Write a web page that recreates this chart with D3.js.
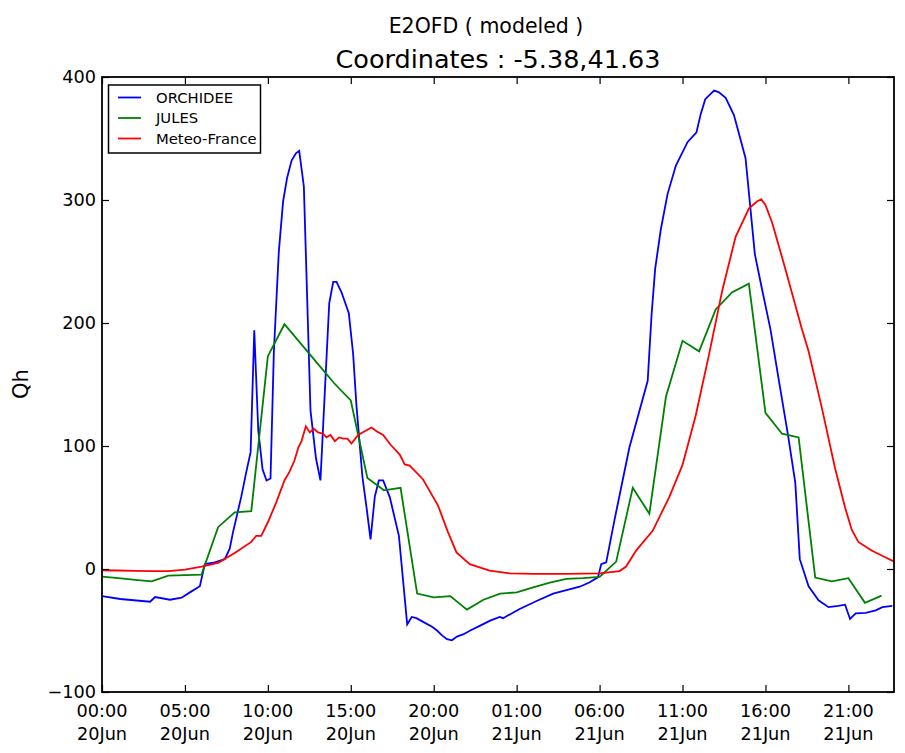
<!DOCTYPE html>
<html>
<head>
<meta charset="utf-8">
<script src="https://cdn.jsdelivr.net/npm/d3@7"></script>
<style>
  html, body { margin: 0; padding: 0; background: #fff; }
  svg { display: block; font-family: "DejaVu Sans", sans-serif; }
</style>
</head>
<body>
<svg id="chart" width="905" height="753"></svg>
<script>
// ---- data (hours since 20 Jun 00:00, Qh value) ----
const seriesNames = ["ORCHIDEE", "JULES", "Meteo-France"];
const seriesColors = ["#0000ff", "#008000", "#ff0000"];

const orchidee = [
  [0,-22],[1.1,-24.4],[2.9,-26.6],[3.2,-22.8],[4.1,-25],[4.8,-23.3],[5.3,-19],[5.9,-14],
  [6.2,4],[6.8,5.4],[7.4,8],[7.7,16.5],[7.9,30],[8.4,59],[8.7,79],[8.96,95],[9.18,194],
  [9.42,113],[9.68,81],[9.92,72],[10.16,73.6],[10.36,176],[10.66,258],[10.92,299],
  [11.16,318],[11.43,332],[11.69,338],[11.89,340],[12.17,311],[12.57,129],[12.9,90],
  [13.17,72],[13.43,143],[13.7,216],[13.94,233.5],[14.14,233.5],[14.44,225],[14.88,208],
  [15.14,175],[15.34,133],[15.7,75],[15.94,51],[16.19,24],[16.45,59],[16.69,72],[16.95,72],
  [17.35,58.5],[17.9,27],[18.4,-45],[18.67,-39],[18.96,-40],[19.36,-43],[19.9,-47],
  [20.2,-50],[20.5,-54],[20.8,-57],[21.1,-58],[21.4,-55],[21.8,-53],[22.2,-50],[22.8,-46],
  [23.4,-42],[23.98,-39],[24.18,-40],[25.18,-32.5],[26.2,-26],[27.2,-20],[28.8,-14.4],
  [29.38,-11],[29.9,-6.8],[30.1,4],[30.4,5.4],[30.9,40],[31.8,99],[32.9,153],[33.13,206],
  [33.35,244],[33.69,276],[34.1,305],[34.6,328],[35.3,347],[35.84,355],[36.1,370],
  [36.37,382],[36.9,389],[37.2,387.5],[37.6,383],[38.1,369],[38.8,334],[39.36,256],
  [39.8,227],[40.3,195],[40.8,154],[41.37,108],[41.8,70],[42.07,8],[42.6,-14],[43.2,-25.5],
  [43.8,-31],[44.4,-30],[44.8,-29],[45.1,-40.6],[45.44,-36],[46.04,-35.6],[46.65,-33.6],
  [47.05,-31],[47.65,-30]
];

const jules = [
  [0,-6.2],[1,-7.5],[2,-8.8],[3,-10],[4,-5.4],[5,-5],[6,-4.6],[7,34],[8,46],[9,47],
  [10,173],[11,199],[12,183],[13,167],[14,151],[15,137],[16,74],[17,64],[18,66],[19,-20],
  [20,-23],[21,-22],[22,-33],[23,-25],[24,-20],[25,-19],[26,-15],[27,-11],[28,-8],[29,-7.5],
  [30,-6.5],[31,6],[32,66],[33,45],[34,140],[35,185.5],[36,177],[37,211],[38,225],[39,232],
  [40,127],[41,110],[42,107],[43,-7],[44,-10],[45,-7.5],[46,-27.5],[47,-21.7]
];

const meteoFrance = [
  [0,-1],[1,-1.2],[2,-1.5],[3,-1.7],[4,-1.8],[5,-0.5],[6,2],[7,5],[8,13],[9,22],[9.3,27],
  [9.6,27],[10,38],[10.5,54],[11,72],[11.3,79],[11.6,88],[11.84,99],[12.03,104],[12.29,116],
  [12.53,111],[12.77,114],[13.03,111],[13.33,110],[13.53,107],[13.77,109],[14.04,104],
  [14.3,107],[14.54,106],[14.8,106],[15.04,102],[15.44,109],[15.84,112],[16.25,115],
  [16.55,112],[16.95,109],[17.4,101],[17.95,93],[18.25,85],[18.55,84],[19.35,73],
  [20.26,51.5],[20.86,30],[21.37,13.5],[22.17,4],[23.37,-1.4],[24.58,-3.5],[26,-4],[28,-4],
  [30,-3.5],[31.2,-1.7],[31.6,2],[32.2,15],[33.2,31],[34.2,58.5],[35,84.6],[35.8,125],
  [36.6,174.5],[37.4,226.7],[38.2,270],[39,293],[39.5,299],[39.75,300.5],[40,296],
  [40.4,281.7],[41.2,244],[42.2,195],[42.6,177],[43.4,131],[44.2,81.7],[44.8,50],
  [45.2,32],[45.6,22],[46.4,15],[47.25,9.3],[47.7,6.4]
];

const xTickHours = [0,5,10,15,20,25,30,35,40,45];
const yTicks = [-100,0,100,200,300,400];
const xDomainHours = [0, 47.75];
const yDomain = [-100, 400];
const startDate = new Date(2014, 5, 20, 0, 0, 0);

const suptitleText = "E2OFD ( modeled )";
const titleText = "Coordinates : -5.38,41.63";
const yLabelText = "Qh";

// ---- layout ----
const W = 905, H = 753;
const mL = 102, mR = 894, mT = 77, mB = 692;

const toDate = h => new Date(startDate.getTime() + h * 3600e3);

const svg = d3.select("#chart");
svg.append("rect").attr("width", W).attr("height", H).attr("fill", "#fff");

const x = d3.scaleTime().domain(xDomainHours.map(toDate)).range([mL, mR]);
const y = d3.scaleLinear().domain(yDomain).range([mB, mT]);

const fmtTime = d3.timeFormat("%H:%M");
const fmtDay = d3.timeFormat("%d%b");
const tickDates = xTickHours.map(toDate);

svg.append("clipPath").attr("id", "clip")
  .append("rect").attr("x", mL).attr("y", mT).attr("width", mR - mL).attr("height", mB - mT);

const line = d3.line().x(d => x(toDate(d[0]))).y(d => y(d[1]));

const allSeries = [orchidee, jules, meteoFrance];
const gLines = svg.append("g").attr("clip-path", "url(#clip)");
allSeries.forEach((s, i) => {
  gLines.append("path").datum(s)
    .attr("d", line)
    .attr("fill", "none")
    .attr("stroke", seriesColors[i])
    .attr("stroke-width", 1.8)
    .attr("stroke-linejoin", "miter");
});

const tickLen = 7;
const fontTick = 17.7;
const minus = s => s.replace("-", "\u2212");

function styleAxis(g) {
  g.select(".domain").remove();
  g.selectAll(".tick line").attr("stroke", "#000").attr("stroke-width", 1.2);
}
svg.append("g").attr("transform", `translate(0,${mB})`)
  .call(d3.axisBottom(x).tickValues(tickDates).tickSize(-tickLen).tickFormat("")).call(styleAxis);
svg.append("g").attr("transform", `translate(0,${mT})`)
  .call(d3.axisTop(x).tickValues(tickDates).tickSize(-tickLen).tickFormat("")).call(styleAxis);
svg.append("g").attr("transform", `translate(${mL},0)`)
  .call(d3.axisLeft(y).tickValues(yTicks).tickSize(-tickLen).tickFormat("")).call(styleAxis);
svg.append("g").attr("transform", `translate(${mR},0)`)
  .call(d3.axisRight(y).tickValues(yTicks).tickSize(-tickLen).tickFormat("")).call(styleAxis);

// x tick labels (two lines)
const xl = svg.append("g").attr("font-size", fontTick).attr("fill", "#000").attr("text-anchor", "middle");
tickDates.forEach(d => {
  const t = xl.append("text").attr("x", x(d)).attr("y", 716.5);
  t.append("tspan").attr("x", x(d)).text(fmtTime(d));
  t.append("tspan").attr("x", x(d)).attr("dy", 23.5).text(fmtDay(d));
});

// y tick labels
const yl = svg.append("g").attr("font-size", fontTick).attr("fill", "#000").attr("text-anchor", "end");
yTicks.forEach(v => {
  yl.append("text").attr("x", mL - 6).attr("y", y(v)).attr("dy", "0.36em").text(minus(String(v)));
});

// frame
svg.append("rect").attr("x", mL).attr("y", mT).attr("width", mR - mL).attr("height", mB - mT)
  .attr("fill", "none").attr("stroke", "#000").attr("stroke-width", 1.8);

// y label
svg.append("text").attr("transform", `translate(28,384) rotate(-90)`)
  .attr("text-anchor", "middle").attr("font-size", 21).text(yLabelText);

// titles
svg.append("text").attr("x", 486).attr("y", 33).attr("text-anchor", "middle").attr("font-size", 20.5).text(suptitleText);
svg.append("text").attr("x", 498).attr("y", 68).attr("text-anchor", "middle").attr("font-size", 25.5).text(titleText);

// legend
const lg = svg.append("g");
lg.append("rect").attr("x", 108.5).attr("y", 85).attr("width", 152).attr("height", 68)
  .attr("fill", "#fff").attr("stroke", "#000").attr("stroke-width", 1.5);
const rowsY = [97.5, 118, 138.5];
seriesNames.forEach((n, i) => {
  lg.append("line").attr("x1", 118).attr("x2", 141).attr("y1", rowsY[i]).attr("y2", rowsY[i])
    .attr("stroke", seriesColors[i]).attr("stroke-width", 1.8);
  lg.append("text").attr("x", 156).attr("y", rowsY[i]).attr("dy", "0.36em")
    .attr("font-size", 14.8).text(n);
});
</script>
</body>
</html>
